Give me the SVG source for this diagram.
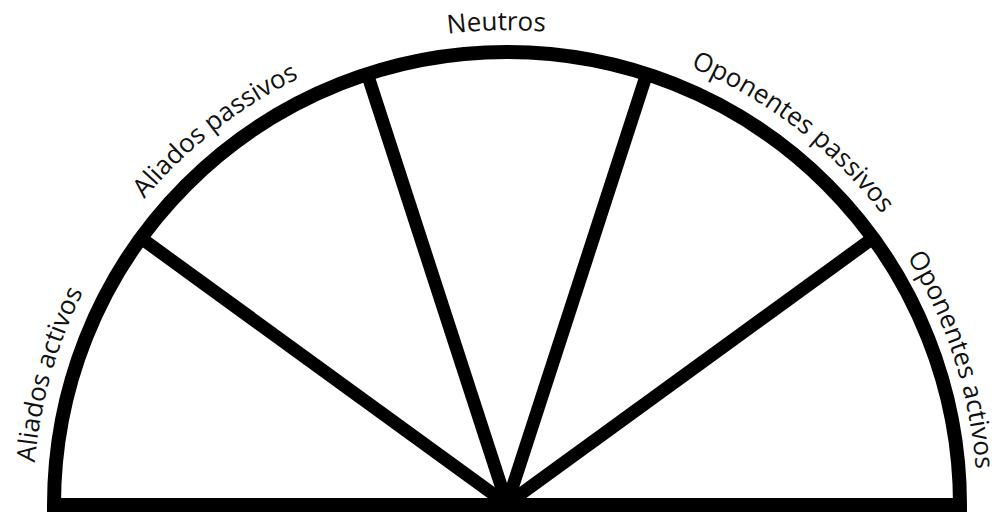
<svg xmlns="http://www.w3.org/2000/svg" width="997" height="512" viewBox="0 0 997 512">
  <style>
    .frame { fill: none; stroke: #000; stroke-width: 14; stroke-linejoin: miter; }
    .spoke { stroke: #000; stroke-width: 13; stroke-linecap: butt; }
    .lbl { font-family: "Open Sans", "Noto Sans", sans-serif; font-size: 26px; fill: #111; text-anchor: middle; }
  </style>
  <defs>
    <path id="labelArc" d="M 33 504 A 474 474 0 0 1 981 504"/>
    <path id="labelArcR" d="M 37 504 A 470 470 0 0 1 977 504"/>
  </defs>
  <rect width="997" height="512" fill="#fff"/>
  <g id="frame">
    <path class="frame" d="M 54 505 A 453 453 0 0 1 960 505 Z"/>
  </g>
  <g id="connectors">
    <line class="spoke" x1="507" y1="504" x2="141.3" y2="238.3"/>
    <line class="spoke" x1="507" y1="504" x2="367.3" y2="74.1"/>
    <line class="spoke" x1="507" y1="504" x2="646.7" y2="74.1"/>
    <line class="spoke" x1="507" y1="504" x2="872.7" y2="238.3"/>
  </g>
  <g id="aliados-activos">
    <text class="lbl"><textPath href="#labelArc" startOffset="130.7">Aliados activos</textPath></text>
  </g>
  <g id="aliados-passivos">
    <text class="lbl"><textPath href="#labelArc" startOffset="430.2">Aliados passivos</textPath></text>
  </g>
  <g id="neutros">
    <text class="lbl"><textPath href="#labelArc" startOffset="733.8">Neutros</textPath></text>
  </g>
  <g id="oponentes-passivos">
    <text class="lbl"><textPath href="#labelArc" startOffset="1054.8">Oponentes passivos</textPath></text>
  </g>
  <g id="oponentes-activos">
    <text class="lbl"><textPath href="#labelArcR" startOffset="1328.9">Oponentes activos</textPath></text>
  </g>
</svg>
